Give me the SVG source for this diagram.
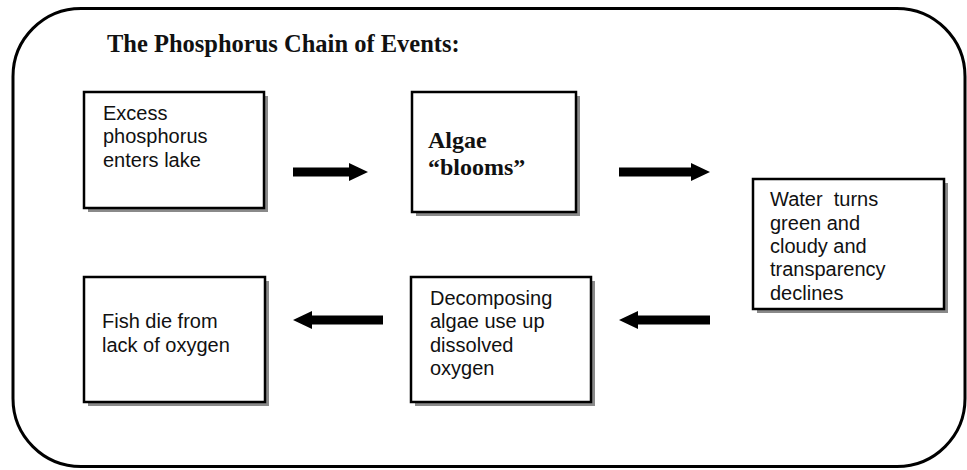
<svg xmlns="http://www.w3.org/2000/svg" width="967" height="470" viewBox="0 0 967 470">
<defs>
<style>
.frame{fill:none;stroke:#000;stroke-width:3}
.box{fill:#fff;stroke:#000;stroke-width:2.5}
.shadow{fill:#8a8a8a}
.sans{font-family:"Liberation Sans",Arial,sans-serif;font-size:20px;fill:#111}
.serifb{font-family:"Liberation Serif","Times New Roman",serif;font-weight:bold;font-size:24px;fill:#111}
.title{font-size:24.5px}
.arrow{fill:#000}
</style>
</defs>
<rect width="967" height="470" fill="#fff"/>
<rect class="frame" x="13" y="8.5" width="952" height="458" rx="68" ry="68"/>
<text class="serifb title" x="107" y="52">The Phosphorus Chain of Events:</text>

<g id="node-excess">
<rect class="shadow" x="88" y="96" width="180" height="116"/>
<rect class="box" x="84" y="92" width="180" height="116"/>
<text class="sans" x="103" y="120">Excess</text>
<text class="sans" x="103" y="143">phosphorus</text>
<text class="sans" x="103" y="167">enters lake</text>
</g>

<g id="node-algae">
<rect class="shadow" x="416" y="96" width="164" height="120"/>
<rect class="box" x="412" y="92" width="164" height="120"/>
<text class="serifb" x="428" y="148">Algae</text>
<text class="serifb" x="428" y="175">“blooms”</text>
</g>

<g id="node-water">
<rect class="shadow" x="757" y="183" width="191" height="130"/>
<rect class="box" x="753" y="179" width="191" height="130"/>
<text class="sans" x="770" y="206" xml:space="preserve">Water  turns</text>
<text class="sans" x="770" y="230">green and</text>
<text class="sans" x="770" y="253">cloudy and</text>
<text class="sans" x="770" y="276">transparency</text>
<text class="sans" x="770" y="300">declines</text>
</g>

<g id="node-decomposing">
<rect class="shadow" x="415" y="281" width="180" height="125"/>
<rect class="box" x="411" y="277" width="180" height="125"/>
<text class="sans" x="430" y="305">Decomposing</text>
<text class="sans" x="430" y="328">algae use up</text>
<text class="sans" x="430" y="352">dissolved</text>
<text class="sans" x="430" y="375">oxygen</text>
</g>

<g id="node-fish">
<rect class="shadow" x="88" y="281" width="181" height="125"/>
<rect class="box" x="84" y="277" width="181" height="125"/>
<text class="sans" x="102" y="328">Fish die from</text>
<text class="sans" x="102" y="352">lack of oxygen</text>
</g>

<g id="connectors">
<polygon class="arrow" points="293,167.5 349,167.5 349,163 368,172 349,181 349,176.5 293,176.5"/>
<polygon class="arrow" points="619,167.5 691,167.5 691,163 710,172 691,181 691,176.5 619,176.5"/>
<polygon class="arrow" points="710,315.5 638,315.5 638,311 619,320 638,329 638,324.5 710,324.5"/>
<polygon class="arrow" points="383,315.5 312,315.5 312,311 293,320 312,329 312,324.5 383,324.5"/>
</g>
</svg>
